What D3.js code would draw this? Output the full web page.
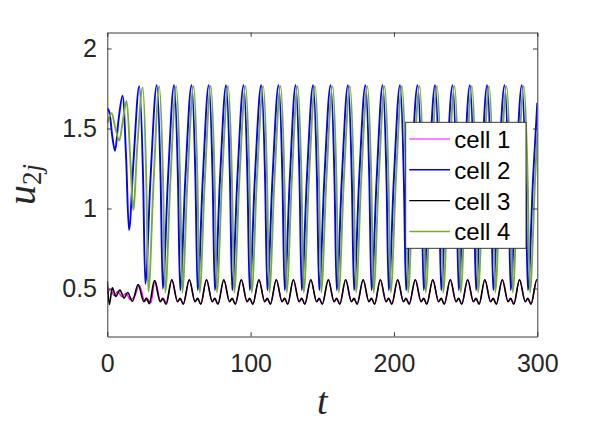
<!DOCTYPE html>
<html>
<head>
<meta charset="utf-8">
<script src="https://cdn.jsdelivr.net/npm/d3@7"></script>
<style>
  body { margin: 0; background: #fff; }
  svg { display: block; }
</style>
</head>
<body>
<script>
// values
var cellNames = ['cell 1', 'cell 2', 'cell 3', 'cell 4'];
var tTicks = [0, 100, 200, 300];
var uTicks = [0.5, 1, 1.5, 2];

// cell 2 (blue): [t, u]
var cell2 = [
  [0,1.625],[1.5,1.60],[3.5,1.45],[5.4,1.36],[7.8,1.55],[10.7,1.705],[13.2,1.30],[15.1,0.865],[18.3,1.30],
  [22.3,1.765],[25.0,1.18],[26.5,0.53],[30.1,1.18],
  [34.5,1.77],[37.2,1.18],[38.7,0.50],[42.3,1.18],
  [46.6,1.77],[49.3,1.18],[50.8,0.49],[54.4,1.18],
  [58.8,1.77],[61.5,1.18],[63.0,0.49],[66.6,1.18],
  [70.8,1.77],[73.5,1.18],[75.0,0.49],[78.6,1.18],
  [82.9,1.77],[85.6,1.18],[87.1,0.49],[90.7,1.18],
  [95.1,1.77],[97.8,1.18],[99.3,0.49],[102.9,1.18],
  [107.4,1.77],[110.1,1.18],[111.6,0.49],[115.2,1.18],
  [119.5,1.77],[122.2,1.18],[123.7,0.49],[127.3,1.18],
  [131.4,1.77],[134.1,1.18],[135.6,0.49],[139.2,1.18],
  [143.6,1.77],[146.3,1.18],[147.8,0.49],[151.4,1.18],
  [155.8,1.77],[158.5,1.18],[160.0,0.49],[163.6,1.18],
  [167.9,1.77],[170.6,1.18],[172.1,0.49],[175.7,1.18],
  [180.1,1.77],[182.8,1.18],[184.3,0.49],[187.9,1.18],
  [192.1,1.77],[194.8,1.18],[196.3,0.49],[199.9,1.18],
  [204.2,1.77],[206.9,1.18],[208.4,0.49],[212.0,1.18],
  [216.5,1.77],[219.2,1.18],[220.7,0.49],[224.3,1.18],
  [228.7,1.77],[231.4,1.18],[232.9,0.49],[236.5,1.18],
  [240.9,1.77],[243.6,1.18],[245.1,0.49],[248.7,1.18],
  [253.0,1.77],[255.7,1.18],[257.2,0.49],[260.8,1.18],
  [265.0,1.77],[267.7,1.18],[269.2,0.49],[272.8,1.18],
  [277.2,1.77],[279.9,1.18],[281.4,0.49],[285.0,1.18],
  [289.2,1.77],[291.9,1.18],[293.4,0.49],[297.0,1.18],
  [300,1.66]
];

// cell 4 (green)
var cell4 = [
  [0,1.535],[3.0,1.595],[5.7,1.50],[8.4,1.425],[11.0,1.56],[13.5,1.672],[16.1,1.30],[18.1,0.99],[21.0,1.40],
  [24.7,1.756],[27.2,1.17],[28.6,0.48],[32.3,1.17],
  [36.2,1.765],[38.9,1.17],[40.4,0.475],[44.0,1.17],
  [48.1,1.765],[50.8,1.17],[52.3,0.475],[55.9,1.17],
  [60.2,1.765],[62.9,1.17],[64.4,0.475],[68.0,1.17],
  [72.2,1.765],[74.9,1.17],[76.4,0.475],[80.0,1.17],
  [84.3,1.765],[87.0,1.17],[88.5,0.475],[92.1,1.17],
  [96.5,1.765],[99.2,1.17],[100.7,0.475],[104.3,1.17],
  [108.8,1.765],[111.5,1.17],[113.0,0.475],[116.6,1.17],
  [120.9,1.765],[123.6,1.17],[125.1,0.475],[128.7,1.17],
  [132.8,1.765],[135.5,1.17],[137.0,0.475],[140.6,1.17],
  [145.0,1.765],[147.7,1.17],[149.2,0.475],[152.8,1.17],
  [157.2,1.765],[159.9,1.17],[161.4,0.475],[165.0,1.17],
  [169.3,1.765],[172.0,1.17],[173.5,0.475],[177.1,1.17],
  [181.5,1.765],[184.2,1.17],[185.7,0.475],[189.3,1.17],
  [193.5,1.765],[196.2,1.17],[197.7,0.475],[201.3,1.17],
  [205.6,1.765],[208.3,1.17],[209.8,0.475],[213.4,1.17],
  [217.9,1.765],[220.6,1.17],[222.1,0.475],[225.7,1.17],
  [230.1,1.765],[232.8,1.17],[234.3,0.475],[237.9,1.17],
  [242.3,1.765],[245.0,1.17],[246.5,0.475],[250.1,1.17],
  [254.4,1.765],[257.1,1.17],[258.6,0.475],[262.2,1.17],
  [266.4,1.765],[269.1,1.17],[270.6,0.475],[274.2,1.17],
  [278.6,1.765],[281.3,1.17],[282.8,0.475],[286.4,1.17],
  [290.6,1.765],[293.3,1.17],[294.8,0.475],[298.4,1.17],
  [300,1.48]
];

// cell 3 (black)
var cell3 = [
  [0,0.545],[1.4,0.40],[3.5,0.505],[5.9,0.45],[8.8,0.49],[11.7,0.44],[14.2,0.475],[17.5,0.42],
  [21.5,0.525],[25.5,0.418],[27.3,0.44],[29.3,0.405],
  [32.9,0.55],[36.9,0.418],[38.7,0.438],[40.9,0.402],
  [45.0,0.555],[49.0,0.418],[50.8,0.438],[53.0,0.402],
  [57.2,0.555],[61.2,0.418],[63.0,0.438],[65.2,0.402],
  [69.2,0.555],[73.2,0.418],[75.0,0.438],[77.2,0.402],
  [81.3,0.555],[85.3,0.418],[87.1,0.438],[89.3,0.402],
  [93.5,0.555],[97.5,0.418],[99.3,0.438],[101.5,0.402],
  [105.8,0.555],[109.8,0.418],[111.6,0.438],[113.8,0.402],
  [117.9,0.555],[121.9,0.418],[123.7,0.438],[125.9,0.402],
  [129.8,0.555],[133.8,0.418],[135.6,0.438],[137.8,0.402],
  [142.0,0.555],[146.0,0.418],[147.8,0.438],[150.0,0.402],
  [154.2,0.555],[158.2,0.418],[160.0,0.438],[162.2,0.402],
  [166.3,0.555],[170.3,0.418],[172.1,0.438],[174.3,0.402],
  [178.5,0.555],[182.5,0.418],[184.3,0.438],[186.5,0.402],
  [190.5,0.555],[194.5,0.418],[196.3,0.438],[198.5,0.402],
  [202.6,0.555],[206.6,0.418],[208.4,0.438],[210.6,0.402],
  [214.9,0.555],[218.9,0.418],[220.7,0.438],[222.9,0.402],
  [227.1,0.555],[231.1,0.418],[232.9,0.438],[235.1,0.402],
  [239.3,0.555],[243.3,0.418],[245.1,0.438],[247.3,0.402],
  [251.4,0.555],[255.4,0.418],[257.2,0.438],[259.4,0.402],
  [263.4,0.555],[267.4,0.418],[269.2,0.438],[271.4,0.402],
  [275.6,0.555],[279.6,0.418],[281.4,0.438],[283.6,0.402],
  [287.6,0.555],[291.6,0.418],[293.4,0.438],[295.6,0.402],
  [299.7,0.555],[300,0.554]
];

// cell 1 (magenta): differs from cell 3 only at the start
var cell1Start = [
  [0,0.465],[2.3,0.495],[4.6,0.455],[7.2,0.48],[10.2,0.45],[13.0,0.47],[16.0,0.43],[19.0,0.45],
  [22.4,0.52],[26.2,0.42],[28.0,0.435],[30.4,0.41],
  [33.3,0.55],[37.3,0.418],[39.1,0.438],[41.3,0.402]
];
var cell1 = cell1Start.concat(cell3.filter(function(d) { return d[0] >= 45; }));

var series = [
  { name: cellNames[0], values: cell1, color: '#ff00ff', width: 1.3 },
  { name: cellNames[1], values: cell2, color: '#0000ff', width: 1.9 },
  { name: cellNames[2], values: cell3, color: '#000000', width: 1.6 },
  { name: cellNames[3], values: cell4, color: '#77ac30', width: 1.9 }
];

var width = 594, height = 430;
var plotL = 107.3, plotR = 537.3, plotT = 32.5, plotB = 336.5;
var axisColor = '#262626';
var sans = '"Liberation Sans", Arial, Helvetica, sans-serif';
var serif = '"Liberation Serif", "Times New Roman", serif';

var svg = d3.select('body').append('svg')
    .attr('width', width)
    .attr('height', height);

svg.append('rect').attr('width', width).attr('height', height).attr('fill', '#fff');

var x = d3.scaleLinear().domain([0, 300]).range([plotL, plotR]);
var y = d3.scaleLinear().domain([0.2, 2.1]).range([plotB, plotT]);

svg.append('defs').append('clipPath').attr('id', 'plot')
  .append('rect')
    .attr('x', plotL).attr('y', plotT)
    .attr('width', plotR - plotL).attr('height', plotB - plotT);

// lines
var line = d3.line()
    .x(function(d) { return x(d[0]); })
    .y(function(d) { return y(d[1]); })
    .curve(d3.curveMonotoneX);

svg.append('g').attr('clip-path', 'url(#plot)')
  .selectAll('path')
  .data(series)
  .enter()
  .append('path')
    .attr('d', function(d) { return line(d.values); })
    .attr('fill', 'none')
    .attr('stroke', function(d) { return d.color; })
    .attr('stroke-width', function(d) { return d.width; })
    .attr('stroke-linejoin', 'round');

// axes (ticks inward, MATLAB box)
var fmt = d3.format('~g');
function styleAxis(g) {
  g.selectAll('.domain').attr('stroke', axisColor).attr('stroke-width', 0.9).attr('fill', 'none');
  g.selectAll('.tick line').attr('stroke', axisColor).attr('stroke-width', 0.9);
  g.selectAll('.tick text').attr('fill', axisColor)
    .style('font-family', sans).style('font-size', '25px');
}

svg.append('g')
    .attr('transform', 'translate(0,' + plotB + ')')
    .call(d3.axisBottom(x).tickValues(tTicks).tickFormat(fmt)
      .tickSizeInner(-4.3).tickSizeOuter(0).tickPadding(17.5))
    .call(styleAxis);

svg.append('g')
    .attr('transform', 'translate(0,' + plotT + ')')
    .call(d3.axisTop(x).tickValues(tTicks).tickFormat('')
      .tickSizeInner(-4.3).tickSizeOuter(0))
    .call(styleAxis);

svg.append('g')
    .attr('transform', 'translate(' + plotL + ',0)')
    .call(d3.axisLeft(y).tickValues(uTicks).tickFormat(fmt)
      .tickSizeInner(-4.3).tickSizeOuter(0).tickPadding(10.3))
    .call(styleAxis);

svg.append('g')
    .attr('transform', 'translate(' + plotR + ',0)')
    .call(d3.axisRight(y).tickValues(uTicks).tickFormat('')
      .tickSizeInner(-4.3).tickSizeOuter(0))
    .call(styleAxis);

// axis labels
svg.append('text')
    .attr('x', (plotL + plotR) / 2)
    .attr('y', 413.5)
    .attr('text-anchor', 'middle')
    .attr('fill', axisColor)
    .style('font-family', serif)
    .style('font-style', 'italic')
    .style('font-size', '38px')
    .text('t');

var ylab = svg.append('text')
    .attr('transform', 'translate(35,' + ((plotT + plotB) / 2) + ') rotate(-90)')
    .attr('text-anchor', 'middle')
    .attr('fill', axisColor)
    .style('font-family', serif);
ylab.append('tspan').style('font-style', 'italic').style('font-size', '40px').text('u');
ylab.append('tspan').attr('dy', 6).style('font-size', '27px').text('2');
ylab.append('tspan').style('font-style', 'italic').style('font-size', '27px').text('j');

// legend
var legend = svg.append('g');
legend.append('rect')
    .attr('x', 405.7).attr('y', 122.3)
    .attr('width', 120.3).attr('height', 126)
    .attr('fill', '#fff')
    .attr('stroke', axisColor)
    .attr('stroke-width', 0.9);

var rows = legend.selectAll('g.row')
    .data(series)
    .enter()
    .append('g')
    .attr('class', 'row')
    .attr('transform', function(d, i) { return 'translate(0,' + (139 + i * 30.8) + ')'; });

rows.append('line')
    .attr('x1', 409.3).attr('x2', 450)
    .attr('stroke', function(d) { return d.color; })
    .attr('stroke-width', function(d) { return d.width * 0.8; });

rows.append('text')
    .attr('x', 454.3)
    .attr('y', 9)
    .attr('fill', '#000')
    .style('font-family', sans)
    .style('font-size', '24px')
    .text(function(d) { return d.name; });
</script>
</body>
</html>
